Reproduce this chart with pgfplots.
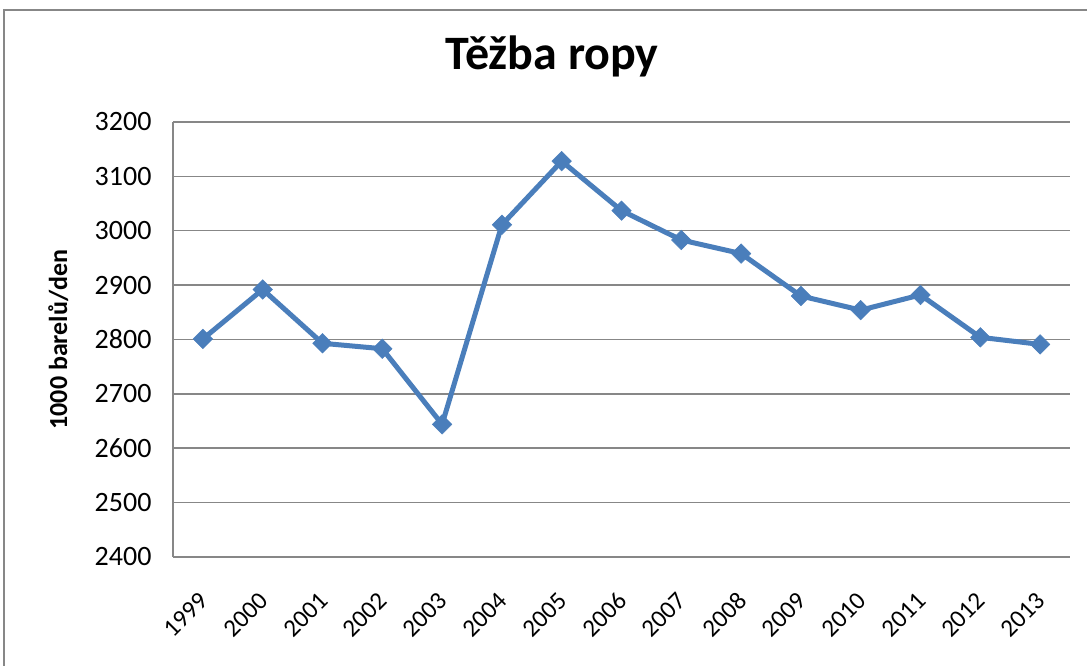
\documentclass[border=0pt]{standalone}
\usepackage{fontspec}
\setmainfont{Carlito}
\usepackage{pgfplots}
\pgfplotsset{compat=1.18}
\definecolor{linec}{HTML}{4A7EBB}
\definecolor{gridc}{HTML}{878787}
\begin{document}
\begin{tikzpicture}[x=1bp,y=1bp]
\useasboundingbox (0,0) rectangle (1087,666);
\fill[white] (0,0) rectangle (1087,666);
\draw[gridc, line width=2.2bp] (4,-5) -- (4,656) -- (1095,656);
\begin{axis}[
  at={(173bp,109bp)}, anchor=south west,
  scale only axis, width=897bp, height=435bp,
  xmin=-0.5, xmax=14.5, ymin=2400, ymax=3200,
  ytick={2400,2500,...,3200},
  xtick={0,...,14},
  xticklabels={1999,2000,2001,2002,2003,2004,2005,2006,2007,2008,2009,2010,2011,2012,2013},
  ymajorgrids, major grid style={gridc, line width=1.5bp},
  axis line style={gridc, line width=1.5bp},
  axis x line*=bottom, axis y line*=left,
  x axis line style={-}, y axis line style={-},
  major tick length=0pt,
  tick style={draw=none},
  /pgf/number format/assume math mode=true,
  /pgf/number format/1000 sep={},
  yticklabel style={xshift=-18bp, font=\fontsize{28bp}{33bp}\selectfont},
  xticklabel style={rotate=45, anchor=north east, xshift=-24bp, yshift=-17bp, font=\fontsize{25bp}{30bp}\selectfont},
  ylabel={1000 barelů/den},
  ylabel style={at={(axis description cs:-0.128,0.5)}, anchor=center, font=\fontsize{26bp}{31bp}\selectfont\bfseries},
  title={Těžba ropy},
  title style={at={(axis description cs:0.4225,1.108)}, anchor=base, font=\fontsize{48bp}{57bp}\selectfont\bfseries},
  clip=false,
]
\addplot[linec, line width=5bp, mark=square*, mark size=6.9bp, mark options={rotate=45, fill=linec, draw=linec, line width=0.5bp}]
coordinates {
(0,2801) (1,2892) (2,2793) (3,2783) (4,2644) (5,3011) (6,3128) (7,3037)
(8,2983) (9,2958) (10,2880) (11,2854) (12,2882) (13,2804) (14,2791)
};
\end{axis}
\end{tikzpicture}
\end{document}
